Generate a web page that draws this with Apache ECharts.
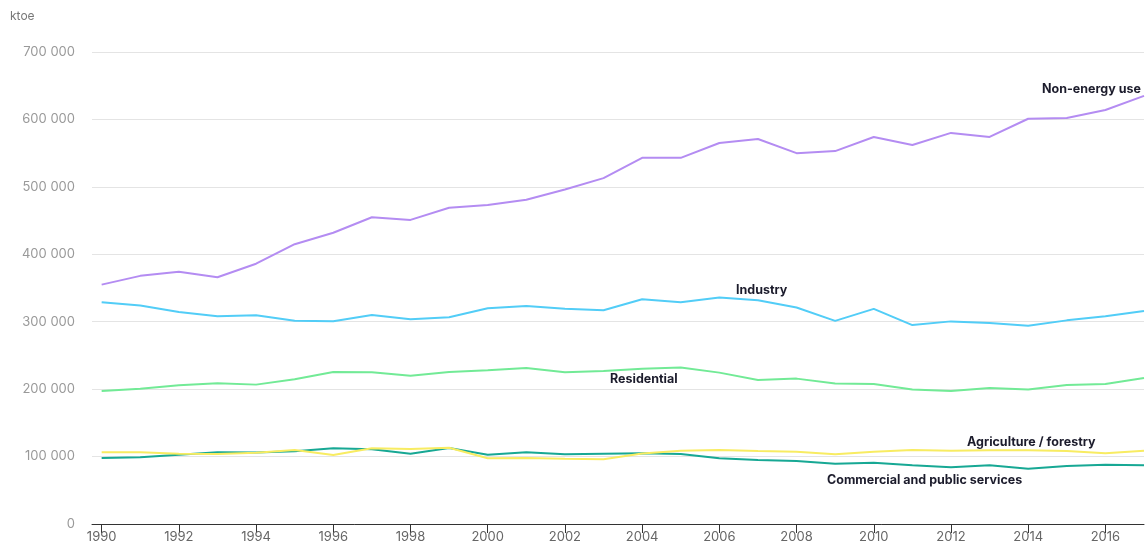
<!DOCTYPE html>
<html>
<head>
<meta charset="utf-8">
<script src="https://cdn.jsdelivr.net/npm/echarts@6/dist/echarts.min.js"></script>
<style>
    html, body { margin: 0; padding: 0; background: #fff; }
    #chart { width: 1148px; height: 546px; }
</style>
</head>
<body>
<div id="chart"></div>
<script>
var years = [1990, 1991, 1992, 1993, 1994, 1995, 1996, 1997, 1998, 1999,
    2000, 2001, 2002, 2003, 2004, 2005, 2006, 2007, 2008, 2009,
    2010, 2011, 2012, 2013, 2014, 2015, 2016, 2017]
var yearTicks = [1990, 1992, 1994, 1996, 1998, 2000, 2002, 2004, 2006, 2008, 2010, 2012, 2014, 2016]

var nonEnergy = [355000, 368000, 374000, 366000, 386000, 415000, 432000, 455000, 451000, 469000,
    473000, 481000, 496000, 513000, 543000, 543000, 565000, 571000, 550000, 553000,
    574000, 562000, 580000, 574000, 601000, 602000, 614000, 635000]
var industry = [329000, 324000, 314500, 308000, 309700, 301600, 300700, 310000, 303700, 306700,
    320000, 323400, 319400, 317000, 333400, 329000, 335800, 331800, 321000, 301200,
    319000, 295000, 300500, 298000, 294000, 302000, 308000, 316000]
var residential = [197300, 200700, 205800, 208700, 206700, 214700, 225500, 225100, 220000, 225500,
    228000, 231500, 225100, 227000, 230400, 232000, 224500, 213600, 215600, 208200,
    207700, 199600, 197300, 201800, 199600, 206200, 207700, 216600]
var agriculture = [106400, 106400, 104300, 103900, 105800, 109800, 102400, 112300, 111300, 113200,
    97500, 97900, 96900, 96000, 104500, 108800, 109800, 108300, 107300, 103400,
    107300, 109800, 108800, 109300, 109300, 108300, 104900, 108800]
var commercial = [97900, 99000, 102800, 106400, 106000, 108000, 112300, 110800, 104300, 112800,
    102800, 106400, 103400, 104300, 104800, 103900, 97500, 95000, 93500, 89500,
    91000, 87000, 84100, 87000, 82100, 86100, 88000, 87000]

var names = ['Non-energy use', 'Industry', 'Residential', 'Agriculture / forestry', 'Commercial and public services']
var colors = ['#b48cf2', '#52cdf7', '#72ea96', '#f8ec62', '#17a894']
var values = [nonEnergy, industry, residential, agriculture, commercial]

function pairs (arr) {
    return arr.map(function (v, i) { return [years[i], v] })
}

var chart = echarts.init(document.getElementById('chart'))

// labels placed next to the lines
var labelPos = [
    [1042, 89], [736, 290], [610, 379], [967, 442], [827, 480]
]

chart.setOption({
    animation: false,
    grid: { left: 92, right: 4, top: 52, bottom: 22 },
    xAxis: {
        type: 'value',
        min: 1989.75,
        max: 2017,
        splitLine: { show: false },
        axisLine: { show: true, lineStyle: { color: '#333', width: 1 } },
        axisTick: { show: true, customValues: yearTicks, length: 9, lineStyle: { color: '#333' } },
        axisLabel: {
            customValues: yearTicks,
            color: '#666',
            fontSize: 13,
            fontFamily: 'Inter',
            margin: 7,
            formatter: function (v) { return String(v) }
        }
    },
    yAxis: {
        type: 'value',
        min: 0,
        max: 700000,
        interval: 100000,
        axisLine: { show: false },
        axisTick: { show: false },
        splitLine: { lineStyle: { color: '#e4e4e4', width: 1 } },
        axisLabel: {
            color: '#999',
            fontSize: 13,
            fontFamily: 'Inter',
            margin: 17,
            formatter: function (v) {
                return String(v).replace(/\B(?=(\d{3})+(?!\d))/g, ' ')
            }
        }
    },
    graphic: [{
        type: 'text',
        left: 10,
        top: 10,
        style: { text: 'ktoe', fill: '#777', font: '12px Inter' }
    }].concat(names.map(function (n, i) {
        return {
            type: 'text',
            left: labelPos[i][0],
            top: labelPos[i][1] - 6,
            style: { text: n, fill: '#1c1c2c', font: 'bold 12.5px Inter' }
        }
    })),
    series: names.map(function (n, i) {
        return {
            name: n,
            type: 'line',
            data: pairs(values[i]),
            symbol: 'none',
            z: 5 - i,
            lineStyle: { color: colors[i], width: 2 }
        }
    }).reverse()
})
</script>
</body>
</html>
